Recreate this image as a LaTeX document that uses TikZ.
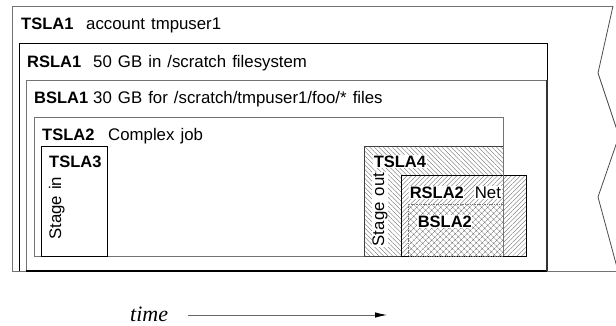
\documentclass[tikz,border=0pt]{standalone}
\usepackage{fontspec}
\setmainfont[WordSpace=1.3]{Liberation Sans}
\newfontfamily\timesfont{Liberation Serif}
\usetikzlibrary{patterns.meta,arrows.meta}
\begin{document}
\begin{tikzpicture}[x=1pt,y=-1pt,
  lab/.style={font=\fontsize{16.5}{19}\selectfont\bfseries, inner sep=0pt, anchor=base west},
  txt/.style={font=\fontsize{16.8}{19}\selectfont, inner sep=0pt, anchor=base west},
  rlab/.style={font=\fontsize{16.8}{19}\selectfont, inner sep=0pt, anchor=base west, rotate=90},
  graybox/.style={draw=black!55, line width=0.8pt},
  blackbox/.style={draw=black, line width=0.7pt},
  nwhatch/.style={pattern={Lines[angle=-45,distance=3.2pt,line width=0.35pt]}, pattern color=black!60},
  nehatch/.style={pattern={Lines[angle=45,distance=3.2pt,line width=0.35pt]}, pattern color=black!60},
  xhatch/.style={pattern={Hatch[angle=45,distance=4pt,line width=0.4pt]}, pattern color=black!60},
  halo/.style={fill=white, inner sep=0.6pt}
]
\useasboundingbox (0,0) rectangle (616,325);
\clip (0,0) rectangle (616,325);

% TSLA1 outline with break
\draw[graybox] (613,6) -- (12,6) -- (12,271) -- (620,271);
\draw[graybox, draw=black!70] (613,6) -- (598,73) -- (619,136) -- (598,197) -- (618,271);

% RSLA1
\draw[blackbox] (19,271) -- (19,43) -- (547,43) -- (547,271);
% BSLA1
\draw[graybox] (26,271) -- (26,80) -- (547,80) -- (547,271);
\draw[line width=1.8pt] (26,271) -- (547,271);
\draw[line width=1.2pt, draw=black!80] (547,80) -- (547,271);

% TSLA2
\draw[graybox] (34,117) rectangle (503,256);
% TSLA3
\draw[blackbox] (41,146) rectangle (107,256);

% TSLA4
\draw[draw=black!75, line width=0.6pt, nwhatch] (364,146) rectangle (503,256);
% RSLA2
\fill[white] (401,175) rectangle (526,256);
\draw[blackbox, nehatch] (401,175) rectangle (526,256);
% BSLA2
\fill[white] (408,204) rectangle (503,256);
\draw[draw=black!55, densely dotted, line width=0.7pt, xhatch] (408,204) rectangle (503,256);

% labels
\node[lab] (t1) at (21,29) {TSLA1};
\node[txt] (t1t) at (86,29) {account tmpuser1};
\node[lab] (r1) at (27,67) {RSLA1};
\node[txt] (r1t) at (93,67) {50 GB in /scratch filesystem};
\node[lab] (b1) at (34,103) {BSLA1};
\node[txt] (b1t) at (93,103) {30 GB for /scratch/tmpuser1/foo/* files};
\node[lab] (t2) at (42,140) {TSLA2};
\node[txt] (t2t) at (108,140) {Complex job};
\node[lab] (t3) at (49,167) {TSLA3};
\node[rlab] (t3t) at (61,240) {Stage in};

\node[lab, halo] (t4) at (373,167) {TSLA4};
\node[rlab, halo] (t4t) at (384,247) {Stage out};
\node[lab, halo] (r2) at (409,198) {RSLA2};
\begin{scope}
  \clip (0,0) rectangle (503,325);
  \node[txt, halo] (r2t) at (474,198) {Net};
\end{scope}
\draw[graybox] (503,117) -- (503,256);
\node[lab, halo] (b2) at (417,227) {BSLA2};

% time arrow
\node[font=\timesfont\itshape\fontsize{22}{24}\selectfont, anchor=base west, inner sep=0pt] (time) at (130,321) {time};
\coordinate (ta) at (188,315);
\coordinate (tb) at (387,315);
\draw[draw=black!60, line width=0.8pt, -{Latex[length=12pt,width=5.5pt,color=black]}] (ta) -- (tb);
\end{tikzpicture}
\end{document}
